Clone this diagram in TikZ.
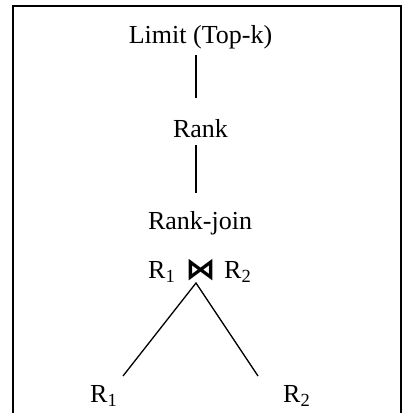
\documentclass[tikz,border=0pt]{standalone}
\usepackage{fontspec}
\setmainfont{Liberation Serif}
\newfontfamily\symfont{DejaVu Sans}
\tikzset{
  lbl/.style={anchor=base, inner sep=0pt, font=\fontsize{26}{30}\selectfont},
  conn/.style={line width=1.3pt, black},
  frame/.style={line width=2pt, black}
}
\newcommand{\subnum}[1]{\raisebox{-0.18em}{\fontsize{18.5}{20}\selectfont #1}}
\begin{document}
\begin{tikzpicture}[x=1pt, y=-1pt]
\useasboundingbox (0,0) rectangle (406,413);
\draw[frame] (13,413) -- (13,6) -- (401,6) -- (401,413);

\node[lbl] (limit) at (200.5,43) {Limit (Top-k)};
\node[lbl] (rank) at (200.5,137) {Rank};
\node[lbl] (rankjoin) at (200,229) {Rank-join};
\node[lbl] (jl) at (161.5,278) {R\subnum{1}};
\node[lbl, font=\symfont\bfseries\fontsize{30}{32}\selectfont] (join) at (200.5,279) {⋈};
\node[lbl] (jr) at (237.5,278) {R\subnum{2}};
\node[lbl] (r1) at (103.5,402) {R\subnum{1}};
\node[lbl] (r2) at (296.5,402) {R\subnum{2}};

\coordinate (l1) at (196,55);
\coordinate (l2) at (196,98);
\coordinate (l3) at (196,145);
\coordinate (l4) at (196,193);
\coordinate (apex) at (196,283);
\coordinate (e1) at (123,376);
\coordinate (e2) at (258,376);

\draw[conn] (l1) -- (l2);
\draw[conn] (l3) -- (l4);
\draw[conn] (e1) -- (apex) -- (e2);
\end{tikzpicture}
\end{document}
